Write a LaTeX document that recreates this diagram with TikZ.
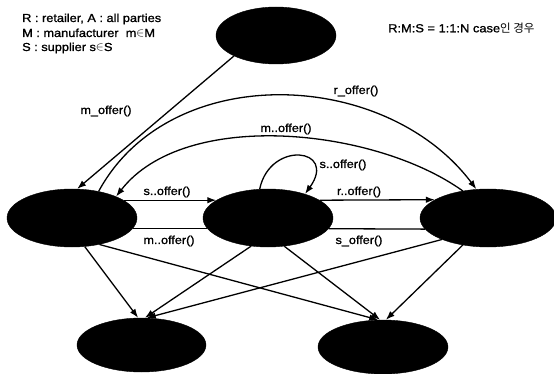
\documentclass[tikz,border=0pt]{standalone}
\usepackage{fontspec}
\setmainfont{Liberation Sans}[FakeStretch=1.1,FakeBold=1.2]
\newfontfamily\krfont{Noto Sans CJK KR}
\usetikzlibrary{shapes.geometric,arrows.meta}
\begin{document}
\begin{tikzpicture}[x=1pt,y=-1pt,
  blob/.style={ellipse, fill=black, draw=black, inner sep=0pt},
  conn/.style={line width=1.3pt, -{Latex[length=9pt,width=6.5pt]}},
  plain/.style={line width=1.3pt},
  lbl/.style={font=\fontsize{11.5}{13}\selectfont, inner sep=0pt},
  leg/.style={font=\fontsize{11.6}{13}\selectfont, inner sep=0pt, anchor=west},
]
\useasboundingbox (0,0) rectangle (554,374);
% entities
\node[blob, minimum width=120pt, minimum height=57pt] (T) at (276,35.5) {};
\node[blob, minimum width=130pt, minimum height=58pt] (L) at (72,218) {};
\node[blob, minimum width=130pt, minimum height=58pt] (M) at (268,218) {};
\node[blob, minimum width=136pt, minimum height=58pt] (R) at (488,218) {};
\node[blob, minimum width=129pt, minimum height=54pt] (BL) at (141.5,345) {};
\node[blob, minimum width=130pt, minimum height=54pt] (BR) at (383,347) {};
% top connectors
\draw[conn] (T.-154) -- (L.80);
\draw[conn] (L.45) .. controls (170,60) and (385,68) .. (R.112);
\draw[conn] (R.133) .. controls (375,128) and (185,108) .. (L.26);
\draw[conn] (M.106) .. controls (270,140) and (338,148) .. (M.33);
% horizontal connectors
\draw[conn] (L.19) -- (M.161);
\draw[plain] (L.-10) -- (M.-170);
\draw[conn] (M.19) -- (R.161);
\draw[plain] (M.-10) -- (R.-170);
% bottom connectors
\draw[conn] (L.-66) -- (BL.97);
\draw[conn] (L.-44) -- (BR.100);
\draw[conn] (M.-121) -- (BL.83);
\draw[conn] (M.-60) -- (BR.96);
\draw[conn] (R.-155) -- (BL.79);
\draw[conn] (R.-133) -- (BR.84);
% labels
\node[lbl] (l1) at (106,111) {m\_offer()};
\node[lbl] (l2) at (356,91) {r\_offer()};
\node[lbl] (l3) at (286,129) {m..offer()};
\node[lbl] (l4) at (343,165) {s..offer()};
\node[lbl] (l5) at (167,192) {s..offer()};
\node[lbl] (l6) at (359,192) {r..offer()};
\node[lbl] (l7) at (169,241) {m..offer()};
\node[lbl] (l8) at (359,241) {s\_offer()};
% legend
\node[leg] (g1) at (22,19) {R : retailer, A : all parties};
\node[leg] (g2) at (22,33) {M : manufacturer\ \ m$\in$M};
\node[leg] (g3) at (22,48) {S : supplier s$\in$S};
\node[lbl, anchor=west, font=\fontsize{11.7}{14}\selectfont] (hd) at (388,28) {R:M:S = 1:1:N case{\krfont\fontsize{11.5}{14}\selectfont 인 경우}};
\end{tikzpicture}
\end{document}
